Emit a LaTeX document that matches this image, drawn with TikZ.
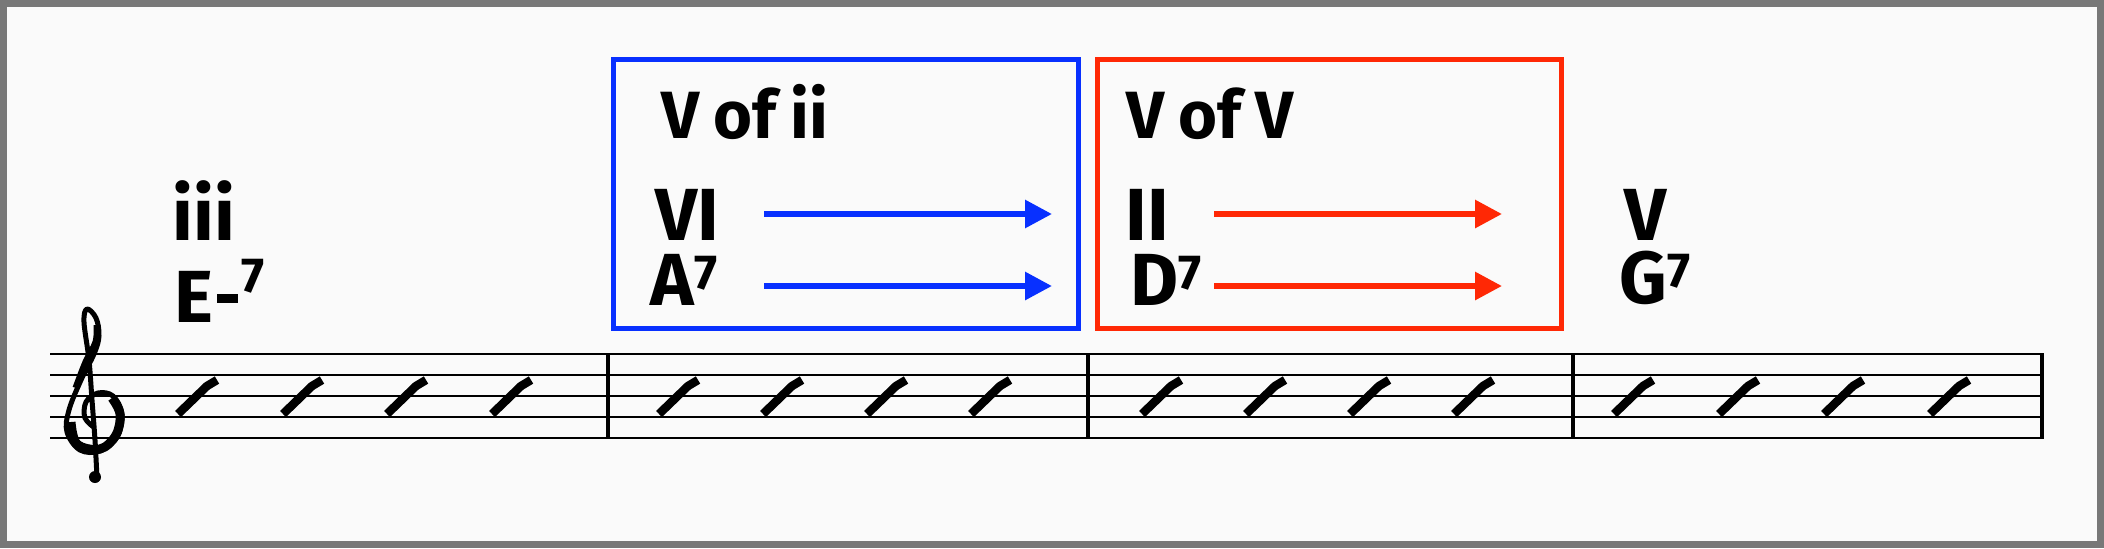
\documentclass[tikz,border=0pt]{standalone}
\usepackage{fontspec}
\setmainfont{Fira Sans}
\usetikzlibrary{arrows.meta}
\definecolor{boxblue}{RGB}{8,48,255}
\definecolor{boxred}{RGB}{255,40,5}
\definecolor{framegray}{RGB}{120,120,120}
\definecolor{paper}{RGB}{250,250,250}
\newcommand{\sevn}[1][4.5pt]{\smash{\raisebox{#1}{\fontsize{14}{14}\selectfont 7}}}
\begin{document}
\begin{tikzpicture}[
x=0.01cm, y=-0.01cm,
chord/.style = {anchor=base west, inner sep=0pt, font=\fontsize{21}{24}\selectfont\bfseries},
title/.style = {anchor=base west, inner sep=0pt, font=\fontsize{19}{22}\selectfont\bfseries},
staffline/.style = {line width=0.02cm, black},
barline/.style = {line width=0.045cm, black},
slashmark/.style = {line width=0.085cm, black},
bluearrow/.style = {-{Triangle[length=0.27cm,width=0.27cm]}, line width=0.06cm, boxblue},
redarrow/.style = {-{Triangle[length=0.27cm,width=0.27cm]}, line width=0.06cm, boxred}
]
  \useasboundingbox (0,0) rectangle (2104,548);
  \draw[line width=0.07cm, draw=framegray, fill=paper] (3.5,3.5) rectangle (2100.5,544.5);

  % staff
  \foreach \y in {354,375,396,417,438}
    \draw[staffline] (50,\y) -- (2044,\y);
  \foreach \x in {608,1088,1573,2042}
    \draw[barline] (\x,354) -- (\x,438);

  % treble clef
  \draw[line width=0.05cm, line join=round] plot[smooth, tension=0.6] coordinates
    {(97,478) (95,440) (92,400) (89,360) (84,322) (87,309) (96,318) (99,336) (94,354) (81,380) (69,410) (67,432) (80,450) (100,451) (117,437) (122,414) (113,396) (98,393) (86,402) (85,418) (95,428)};
  \draw[line width=0.09cm] plot[smooth, tension=0.6] coordinates
    {(71,422) (77,444) (100,449) (116,435) (120,414) (112,398)};
  \draw[line width=0.07cm] plot[smooth, tension=0.6] coordinates
    {(97,325) (96,342) (86,362) (76,388)};
  \fill (95,477) circle (6);

  % rhythm slashes
  \foreach \cx in {197,302,406,511,678,782,886,990,1161,1265,1369,1473,1633,1738,1843,1949}
    \draw[slashmark] (\cx-19,414) -- (\cx+10,386) .. controls (\cx+15,382) .. (\cx+20,380);

  % boxes
  \draw[line width=0.05cm, boxblue] (613,59) rectangle (1078,328);
  \draw[line width=0.05cm, boxred] (1097,59) rectangle (1561,328);

  % chord labels
  \node[chord] (iii) at (172,240) {iii};
  \node[chord] (em7) at (174,322) {E\kern1pt\rule[5.5pt]{6pt}{2.6pt}\kern1pt\sevn[8.5pt]};
  \node[title] (vofii) at (661,138) {V\kern4pt of\kern4pt ii};
  \node[chord] (vi) at (655,240) {VI};
  \node[chord] (a7) at (650,305) {A\sevn};
  \node[title] (vofv) at (1126,138) {V\kern4pt of\kern4pt V};
  \node[chord] (ii) at (1125,240) {II};
  \node[chord] (d7) at (1130,305) {D\sevn};
  \node[chord] (v) at (1624,240) {V};
  \node[chord] (g7) at (1619,303) {G\sevn};

  % arrows
  \coordinate (vi-s) at (764,214);
  \coordinate (vi-e) at (1052,214);
  \coordinate (a7-s) at (764,286);
  \coordinate (a7-e) at (1052,286);
  \coordinate (ii-s) at (1214,214);
  \coordinate (ii-e) at (1502,214);
  \coordinate (d7-s) at (1214,286);
  \coordinate (d7-e) at (1502,286);
  \draw[bluearrow] (vi-s) -- (vi-e);
  \draw[bluearrow] (a7-s) -- (a7-e);
  \draw[redarrow] (ii-s) -- (ii-e);
  \draw[redarrow] (d7-s) -- (d7-e);
\end{tikzpicture}
\end{document}
